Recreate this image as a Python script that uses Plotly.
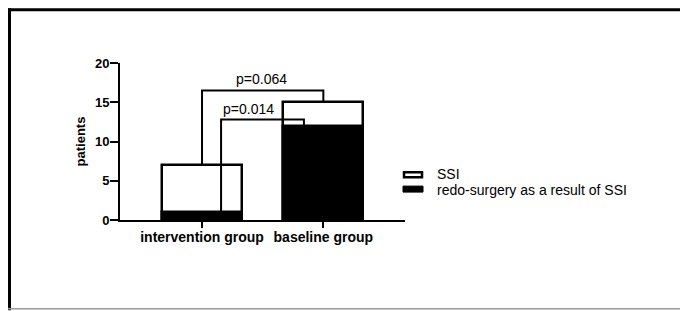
import plotly.graph_objects as go

# ---- data ----
categories = ["intervention group", "baseline group"]
ssi_values = [7, 15]
redo_values = [1, 12]
series_names = ["SSI", "redo-surgery as a result of SSI"]
y_ticks = [0, 5, 10, 15, 20]
p_labels = ["p=0.064", "p=0.014"]
bracket_heights = [16.5, 12.8]

# ---- layout geometry (screen pixels; page body has an 8px margin) ----
OX, OY = 8, 8
W, H = 688 - OX, 311 - OY
L, R_PX, T, B_PX = 120, 405, 63, 220.5   # plot area in screen pixels
FONT = "Liberation Sans, Arial, sans-serif"


def px_x(px):
    return (px - L) / (R_PX - L)


def px_y(py):
    return (B_PX - py) / (B_PX - T)


xpos = list(range(len(categories)))
bar_w = 0.66

fig = go.Figure()
fig.add_trace(go.Bar(
    x=xpos, y=ssi_values, width=bar_w, name=series_names[0],
    marker=dict(color="white", line=dict(color="black", width=2.5)),
    showlegend=False,
))
fig.add_trace(go.Bar(
    x=xpos, y=redo_values, width=bar_w, name=series_names[1],
    marker=dict(color="black", line=dict(color="black", width=2.5)),
    showlegend=False,
))

# brackets
line_style = dict(color="black", width=2)
fig.add_trace(go.Scatter(
    x=[xpos[0], xpos[0], xpos[1], xpos[1]],
    y=[ssi_values[0], bracket_heights[0], bracket_heights[0], ssi_values[1]],
    mode="lines", line=line_style, showlegend=False, hoverinfo="skip",
))
off_l, off_r = 0.157, 0.84
fig.add_trace(go.Scatter(
    x=[xpos[0] + off_l, xpos[0] + off_l, xpos[0] + off_r, xpos[0] + off_r],
    y=[redo_values[0], bracket_heights[1], bracket_heights[1], redo_values[1]],
    mode="lines", line=line_style, showlegend=False, hoverinfo="skip",
))

annotations = [
    dict(x=0.49, y=bracket_heights[0], xref="x", yref="y", text=p_labels[0],
         showarrow=False, yanchor="bottom", yshift=1,
         font=dict(family=FONT, size=14, color="black")),
    dict(x=0.38, y=bracket_heights[1], xref="x", yref="y", text=p_labels[1],
         showarrow=False, yanchor="bottom", yshift=1,
         font=dict(family=FONT, size=14, color="black")),
    dict(x=px_x(435), y=px_y(174.5), xref="paper", yref="paper", text=series_names[0],
         showarrow=False, xanchor="left", yanchor="middle",
         font=dict(family=FONT, size=14, color="black")),
    dict(x=px_x(435), y=px_y(190.5), xref="paper", yref="paper", text=series_names[1],
         showarrow=False, xanchor="left", yanchor="middle",
         font=dict(family=FONT, size=14, color="black")),
]

shapes = [
    # legend symbols
    dict(type="rect", xref="paper", yref="paper",
         x0=px_x(404), x1=px_x(422), y0=px_y(177.5), y1=px_y(172.5),
         line=dict(color="black", width=2.5), fillcolor="white"),
    dict(type="rect", xref="paper", yref="paper",
         x0=px_x(403), x1=px_x(423), y0=px_y(192.5), y1=px_y(186.5),
         line=dict(color="black", width=1), fillcolor="black"),
    # outer frame
    dict(type="line", xref="paper", yref="paper",
         x0=px_x(8), x1=px_x(688), y0=px_y(9.5), y1=px_y(9.5),
         line=dict(color="black", width=3)),
    dict(type="line", xref="paper", yref="paper",
         x0=px_x(9.5), x1=px_x(9.5), y0=px_y(8), y1=px_y(311),
         line=dict(color="black", width=3)),
    dict(type="line", xref="paper", yref="paper",
         x0=px_x(8), x1=px_x(688), y0=px_y(309.5), y1=px_y(309.5),
         line=dict(color="#999999", width=1.5)),
    dict(type="line", xref="paper", yref="paper",
         x0=px_x(686), x1=px_x(686), y0=px_y(8), y1=px_y(311),
         line=dict(color="#555555", width=1.5)),
]

fig.update_layout(
    width=W, height=H, autosize=False,
    margin=dict(l=L - OX, r=688 - R_PX, t=T - OY, b=311 - B_PX, pad=0),
    paper_bgcolor="white", plot_bgcolor="white",
    barmode="overlay", bargap=0,
    font=dict(family=FONT, color="black"),
    annotations=annotations, shapes=shapes,
    showlegend=False,
)
fig.update_xaxes(
    range=[-0.676, 1.673], tickvals=xpos, ticktext=categories,
    showline=True, linecolor="black", linewidth=2,
    ticks="outside", ticklen=6, tickwidth=2, tickcolor="black",
    showgrid=False, zeroline=False, ticklabelstandoff=-3,
    tickfont=dict(family=FONT, size=14, color="black", weight="bold"),
)
fig.update_yaxes(
    range=[0, 20], tickvals=y_ticks,
    showline=True, linecolor="black", linewidth=2,
    ticks="outside", ticklen=8, tickwidth=2, tickcolor="black",
    showgrid=False, zeroline=False, ticklabelstandoff=-2,
    tickfont=dict(family=FONT, size=13, color="black", weight="bold"),
    title=dict(text="patients", standoff=6,
               font=dict(family=FONT, size=13, color="black", weight="bold")),
)

fig.write_html("out.html")
